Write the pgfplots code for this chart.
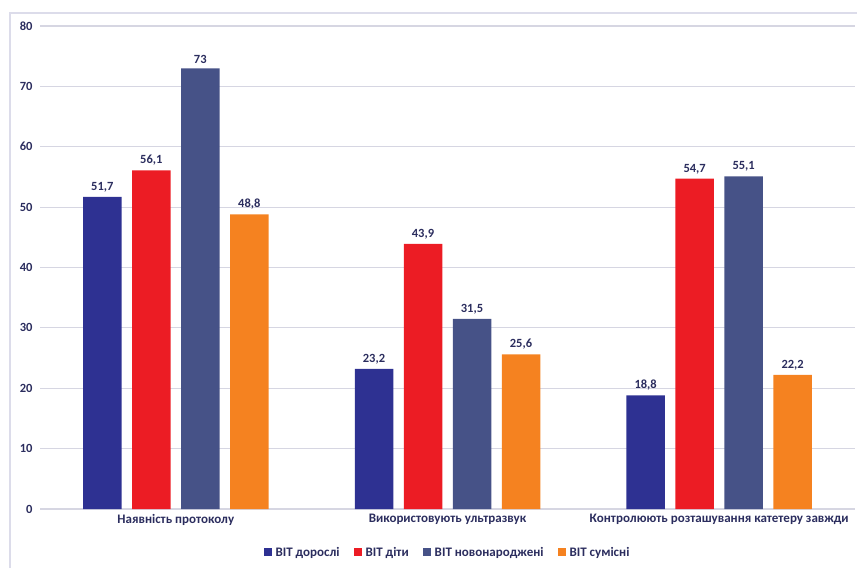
\documentclass[border=0pt]{standalone}
\usepackage{pgfplots}
\pgfplotsset{compat=1.18}
\usepackage{fontspec}
\setmainfont{Carlito}

\definecolor{cBlue}{HTML}{2E3192}
\definecolor{cRed}{HTML}{EC1C24}
\definecolor{cSlate}{HTML}{465287}
\definecolor{cOrange}{HTML}{F58220}
\definecolor{txt}{HTML}{2B2D5E}
\definecolor{gridc}{HTML}{D6D6E2}
\definecolor{framec}{HTML}{DCDCEA}

\begin{document}
\begin{tikzpicture}[x=1pt,y=1pt]
\path[use as bounding box] (0,0) rectangle (857,568);
\draw[framec, line width=1.6pt] (10,0) -- (10,555) -- (857,555);
\begin{axis}[
  at={(40pt,59pt)}, anchor=south west,
  scale only axis, width=815pt, height=483pt,
  xmin=-0.5, xmax=2.5, ymin=0, ymax=80,
  ytick={0,10,...,80},
  xtick={0,1,2},
  xticklabels={Наявність протоколу, Використовують ультразвук, Контролюють розташування катетеру завжди},
  ymajorgrids, grid style={gridc, line width=1.1pt},
  axis line style={draw=none},
  major tick length=0pt,
  tick label style={font=\fontsize{13}{15}\selectfont\bfseries, text=txt},
  yticklabel style={xshift=-4pt, font=\fontsize{12.5}{14}\selectfont\bfseries},
  xticklabel style={yshift=-2pt},
  /pgf/number format/assume math mode=true,
  /pgf/number format/use comma,
  ybar=10.5pt, bar width=38.5pt,
  nodes near coords,
  nodes near coords style={font=\fontsize{12.5}{14}\selectfont\bfseries, text=txt, yshift=1.5pt,
    /pgf/number format/fixed, /pgf/number format/precision=1,
    /pgf/number format/use comma, /pgf/number format/assume math mode=true},
  legend columns=4,
  legend style={draw=none, fill=none, at={(0.5,-0.09)}, anchor=center,
    font=\fontsize{13}{15}\selectfont\bfseries, text=txt,
    /tikz/every odd column/.append style={column sep=2pt},
    /tikz/every even column/.append style={column sep=12pt}},
  legend image code/.code={\fill[#1] (0pt,-4pt) rectangle (8pt,4pt);},
]
\addplot[fill=cBlue, draw=none] coordinates {(0,51.7) (1,23.2) (2,18.8)};
\addplot[fill=cRed, draw=none] coordinates {(0,56.1) (1,43.9) (2,54.7)};
\addplot[fill=cSlate, draw=none] coordinates {(0,73) (1,31.5) (2,55.1)};
\addplot[fill=cOrange, draw=none] coordinates {(0,48.8) (1,25.6) (2,22.2)};
\legend{ВІТ дорослі, ВІТ діти, ВІТ новонароджені, ВІТ сумісні}
\end{axis}
\end{tikzpicture}
\end{document}
